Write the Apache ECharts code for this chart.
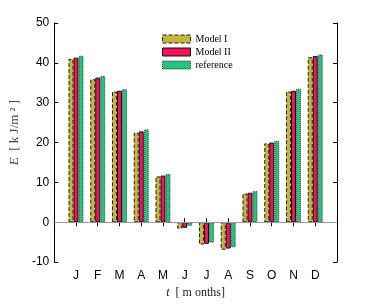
<!DOCTYPE html>
<html><head><meta charset="utf-8">
<script src="https://cdn.jsdelivr.net/npm/echarts@6/dist/echarts.min.js"></script>
<style>html,body{margin:0;padding:0;background:#fff}#c{width:374px;height:304px}</style>
</head><body><div id="c"></div>
<script>
const months = ['J','F','M','A','M','J','J','A','S','O','N','D'];
const modelI   = [41.0, 35.9, 32.8, 22.5, 11.5, -1.6, -5.6, -6.9, 7.2, 19.8, 32.8, 41.4];
const modelII  = [41.3, 36.3, 33.0, 22.8, 11.7, -1.4, -5.4, -6.6, 7.4, 20.0, 33.0, 41.7];
const reference= [41.8, 36.7, 33.4, 23.3, 12.1, -0.9, -5.1, -6.3, 7.8, 20.4, 33.5, 42.1];
const yTicks = [-10, 0, 10, 20, 30, 40, 50];

const cats = [''].concat(months, ['']);
const pad = a => [null].concat(a, [null]);
const serif = 'Liberation Serif, DejaVu Serif, serif';
const sans = 'Liberation Sans, Arial, sans-serif';

const styleI   = {color:'#c8b43a', borderColor:'#222', borderWidth:1, borderType:'dashed'};
const styleII  = {color:'#f2145a', borderColor:'#111', borderWidth:1, borderType:'solid'};
const styleRef = {color:'#22c47e', borderColor:'#333', borderWidth:1, borderType:'dotted'};

const chart = echarts.init(document.getElementById('c'), null, {renderer:'canvas'});
const baseX = {
  type:'category', data: cats, boundaryGap:false,
  axisLine:{lineStyle:{color:'#000', width:1}},
  axisTick:{inside:true, length:4, lineStyle:{color:'#000'}},
  splitLine:{show:false}
};
const baseY = {
  type:'value', min: yTicks[0], max: yTicks[yTicks.length-1], interval:10,
  axisLine:{show:true, lineStyle:{color:'#000', width:1}},
  axisTick:{show:true, inside:true, length:4, lineStyle:{color:'#000'}},
  splitLine:{show:false}
};
chart.setOption({
  animation:false,
  backgroundColor:'#fff',
  grid:{left:48, right:37, top:23, bottom:38},
  legend:{
    orient:'vertical', left:157, top:29, itemWidth:28, itemHeight:8, itemGap:3,
    icon:'rect',
    textStyle:{fontFamily:serif, fontSize:10, color:'#000'},
    data:[
      {name:'Model I', itemStyle:styleI},
      {name:'Model II', itemStyle:styleII},
      {name:'reference', itemStyle:styleRef}
    ]
  },
  xAxis:[
    Object.assign({}, baseX, {position:'bottom',
      axisLabel:{color:'#000', fontFamily:sans, fontSize:12, margin:8},
      name:'{i|t}  [ m onths]', nameLocation:'middle', nameGap:19,
      nameTextStyle:{fontFamily:serif, fontSize:12, color:'#222',
        rich:{i:{fontFamily:serif, fontStyle:'italic', fontSize:12, color:'#222'}}}
    }),
    Object.assign({}, baseX, {position:'top', axisLabel:{show:false}})
  ],
  yAxis:[
    Object.assign({}, baseY, {position:'left',
      axisLabel:{color:'#000', fontFamily:sans, fontSize:12, margin:5},
      name:'{i|E}  [ k J/m ² ]', nameLocation:'middle', nameGap:33, nameRotate:90,
      nameTextStyle:{fontFamily:serif, fontSize:13, color:'#444', padding:[0,0,0,20],
        rich:{i:{fontFamily:serif, fontStyle:'italic', fontSize:13, color:'#444'}}}
    }),
    Object.assign({}, baseY, {position:'right', axisLabel:{show:false}})
  ],
  series:[
    {name:'Model I', type:'bar', data:pad(modelI), barWidth:5, barGap:'0%',
     itemStyle:styleI,
     markLine:{silent:true, symbol:'none', label:{show:false},
       lineStyle:{color:'#999', type:'solid', width:1}, data:[{yAxis:0}]}},
    {name:'Model II', type:'bar', data:pad(modelII), barWidth:5, barGap:'0%',
     itemStyle:styleII},
    {name:'reference', type:'bar', data:pad(reference), barWidth:5, barGap:'0%',
     itemStyle:styleRef}
  ]
});
</script></body></html>
